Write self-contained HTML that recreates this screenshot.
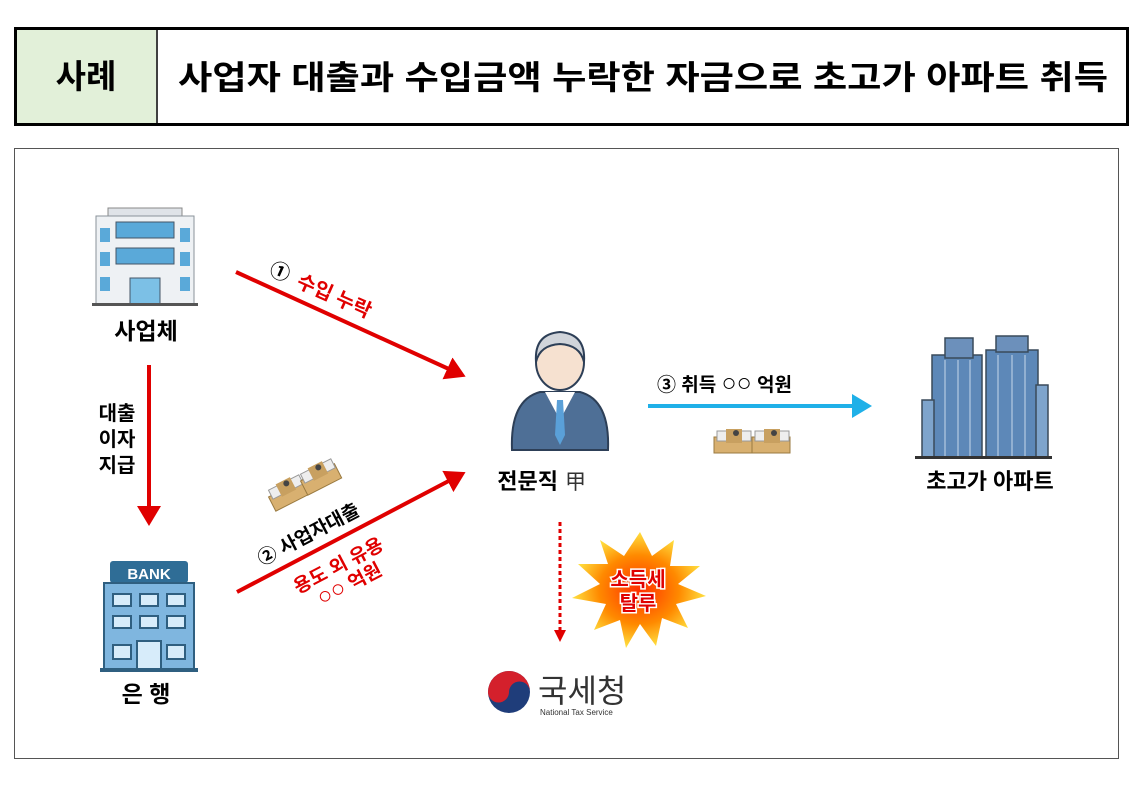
<!DOCTYPE html>
<html><head><meta charset="utf-8"><style>
body{margin:0;background:#fff;width:1148px;height:788px;overflow:hidden;font-family:"Liberation Sans","Noto Sans CJK KR",sans-serif}
</style></head><body>
<svg width="1148" height="788" xmlns="http://www.w3.org/2000/svg" style="font-family:'Liberation Sans','Noto Sans CJK KR',sans-serif">
<defs>
<marker id="rh" markerWidth="6" markerHeight="6" refX="4" refY="3" orient="auto" markerUnits="strokeWidth"><path d="M0,0 L5,3 L0,6 z" fill="#e00000"/></marker>
<marker id="bh" markerWidth="6" markerHeight="6" refX="4" refY="3" orient="auto" markerUnits="strokeWidth"><path d="M0,0 L5,3 L0,6 z" fill="#1fb0e8"/></marker>
<radialGradient id="sb" cx="50%" cy="50%" r="50%"><stop offset="0" stop-color="#ff3000"/><stop offset="0.6" stop-color="#ff8a00"/><stop offset="1" stop-color="#ffe040"/></radialGradient>
<g id="money">
<rect x="0" y="10" width="38" height="16" fill="#d8b070" stroke="#9a7a40" stroke-width="1"/>
<rect x="3" y="4" width="34" height="10" fill="#eee" stroke="#999" stroke-width="1"/>
<rect x="12" y="2" width="16" height="14" fill="#c8a060"/>
<circle cx="22" cy="6" r="3" fill="#444"/>
</g>
</defs>
<rect x="15.5" y="28.5" width="1112" height="96" fill="#fff" stroke="#000" stroke-width="3"/>
<rect x="17" y="30" width="139" height="93" fill="#e2f0d9"/>
<line x1="157" y1="29" x2="157" y2="124" stroke="#000" stroke-width="1.5"/>
<text x="86" y="88" font-size="33" font-weight="bold" text-anchor="middle">사례</text>
<text x="643" y="89" font-size="33" font-weight="bold" text-anchor="middle" textLength="930" lengthAdjust="spacingAndGlyphs">사업자 대출과 수입금액 누락한 자금으로 초고가 아파트 취득</text>
<rect x="14.5" y="148.5" width="1104" height="610" fill="none" stroke="#555" stroke-width="1"/>

<g>
<rect x="108" y="208" width="74" height="8" fill="#dfe3e8" stroke="#888"/>
<rect x="96" y="216" width="98" height="88" fill="#eef1f4" stroke="#8a929a"/>
<rect x="116" y="222" width="58" height="16" fill="#5aa9d9" stroke="#456"/>
<rect x="116" y="248" width="58" height="16" fill="#5aa9d9" stroke="#456"/>
<rect x="100" y="228" width="10" height="14" fill="#5aa9d9"/><rect x="180" y="228" width="10" height="14" fill="#5aa9d9"/>
<rect x="100" y="252" width="10" height="14" fill="#5aa9d9"/><rect x="180" y="252" width="10" height="14" fill="#5aa9d9"/>
<rect x="100" y="277" width="10" height="14" fill="#5aa9d9"/><rect x="180" y="277" width="10" height="14" fill="#5aa9d9"/>
<rect x="130" y="278" width="30" height="26" fill="#7cc0e6" stroke="#456"/>
<rect x="92" y="303" width="106" height="3" fill="#555"/>
</g>
<text x="146" y="339" font-size="23" font-weight="bold" text-anchor="middle">사업체</text>

<line x1="236" y1="272" x2="462" y2="375" stroke="#e00000" stroke-width="4" marker-end="url(#rh)"/>
<g transform="translate(268,274) rotate(24)">
<text x="0" y="0" font-size="20" font-weight="bold">①</text>
<text x="30" y="0" font-size="20" font-weight="bold" fill="#e00000">수입 누락</text>
</g>

<line x1="149" y1="365" x2="149" y2="522" stroke="#e00000" stroke-width="4" marker-end="url(#rh)"/>
<text x="117" y="420" font-size="20" font-weight="bold" text-anchor="middle">대출</text>
<text x="117" y="446" font-size="20" font-weight="bold" text-anchor="middle">이자</text>
<text x="117" y="472" font-size="20" font-weight="bold" text-anchor="middle">지급</text>

<g>
<rect x="110" y="561" width="78" height="22" rx="3" fill="#2f6d96"/>
<text x="149" y="579" font-size="15" font-weight="bold" fill="#fff" text-anchor="middle">BANK</text>
<rect x="104" y="583" width="90" height="86" fill="#7fb6df" stroke="#2f5f80" stroke-width="2"/>
<g fill="#d7ecfa" stroke="#2f5f80" stroke-width="2">
<rect x="113" y="594" width="18" height="12"/><rect x="140" y="594" width="18" height="12"/><rect x="167" y="594" width="18" height="12"/>
<rect x="113" y="616" width="18" height="12"/><rect x="140" y="616" width="18" height="12"/><rect x="167" y="616" width="18" height="12"/>
<rect x="113" y="645" width="18" height="14"/><rect x="137" y="641" width="24" height="28"/><rect x="167" y="645" width="18" height="14"/>
</g>
<rect x="100" y="668" width="98" height="4" fill="#2f5f80"/>
</g>
<text x="146" y="702" font-size="23" font-weight="bold" text-anchor="middle">은 행</text>

<line x1="237" y1="592" x2="462" y2="474" stroke="#e00000" stroke-width="4" marker-end="url(#rh)"/>
<use href="#money" transform="translate(264,488) rotate(-27)"/>
<use href="#money" transform="translate(296,472) rotate(-27)"/>
<g transform="translate(262,566) rotate(-27.6)">
<text x="0" y="0" font-size="19" font-weight="bold">② 사업자대출</text>
</g>
<g transform="translate(298,594) rotate(-27.6)">
<text x="0" y="0" font-size="19" font-weight="bold" fill="#e00000">용도 외 유용</text>
</g>
<g transform="translate(322,606) rotate(-27.6)">
<text x="0" y="0" font-size="19" font-weight="bold" fill="#e00000"><tspan font-size="24" font-weight="normal">○○</tspan> 억원</text>
</g>

<g>
<path d="M512,450 Q510,400 540,392 L580,392 Q610,400 608,450 Z" fill="#4e6f96" stroke="#2d3f57" stroke-width="2"/>
<path d="M545,392 L560,420 L575,392 Z" fill="#fff"/>
<path d="M557,400 L563,400 L565,435 L560,445 L555,435 Z" fill="#5aa0d8"/>
<ellipse cx="560" cy="362" rx="24" ry="28" fill="#f6e1d0" stroke="#2d3f57" stroke-width="2"/>
<path d="M536,362 Q534,334 560,332 Q586,334 584,362 Q580,345 560,344 Q540,345 536,362 Z" fill="#d0d4da" stroke="#2d3f57" stroke-width="2"/>
</g>
<text x="558" y="489" font-size="22" font-weight="bold" text-anchor="end">전문직</text>
<text x="565" y="489" font-size="21" fill="#333">甲</text>

<line x1="648" y1="406" x2="868" y2="406" stroke="#1fb0e8" stroke-width="4" marker-end="url(#bh)"/>
<text x="657" y="391" font-size="19" font-weight="bold">③ 취득 <tspan font-size="25" font-weight="normal">○○</tspan> 억원</text>
<use href="#money" transform="translate(714,427)"/>
<use href="#money" transform="translate(752,427)"/>

<g stroke="#3a4a5a" stroke-width="1.5">
<rect x="932" y="355" width="50" height="102" fill="#5d88b8"/>
<rect x="945" y="338" width="28" height="20" fill="#6c90bb"/>
<rect x="986" y="350" width="52" height="107" fill="#5d88b8"/>
<rect x="996" y="336" width="32" height="16" fill="#6c90bb"/>
<rect x="922" y="400" width="12" height="57" fill="#7ea4cc"/>
<rect x="1036" y="385" width="12" height="72" fill="#7ea4cc"/>
</g>
<g stroke="#c8d8ea" stroke-width="1">
<line x1="945" y1="360" x2="945" y2="456"/><line x1="958" y1="360" x2="958" y2="456"/><line x1="970" y1="360" x2="970" y2="456"/>
<line x1="998" y1="355" x2="998" y2="456"/><line x1="1012" y1="355" x2="1012" y2="456"/><line x1="1025" y1="355" x2="1025" y2="456"/>
</g>
<rect x="915" y="456" width="137" height="3" fill="#333"/>
<text x="990" y="489" font-size="22" font-weight="bold" text-anchor="middle">초고가 아파트</text>

<line x1="560" y1="522" x2="560" y2="633" stroke="#e00000" stroke-width="3" stroke-dasharray="4,3"/>
<path d="M554,630 L566,630 L560,642 Z" fill="#e00000"/>

<polygon fill="url(#sb)" points="640,532 652,556 674,540 670,566 700,566 678,584 706,596 676,604 688,628 662,618 656,646 640,624 626,648 620,620 594,630 606,604 572,598 600,584 578,564 608,564 600,540 624,556" />
<g font-size="20" font-weight="bold" text-anchor="middle" fill="#e00000" stroke="#fff" stroke-width="3" paint-order="stroke">
<text x="638" y="586">소득세</text>
<text x="638" y="610">탈루</text>
</g>

<circle cx="509" cy="692" r="21" fill="#1f3d7a"/>
<path d="M488,692 A21,21 0 0 1 530,692 A10.5,10.5 0 0 0 509,692 A10.5,10.5 0 0 1 488,692 Z" fill="#d4202c"/>
<text x="538" y="702" font-size="32" fill="#333">국세청</text>
<text x="540" y="715" font-size="8" fill="#333">National Tax Service</text>
</svg>
</body></html>
